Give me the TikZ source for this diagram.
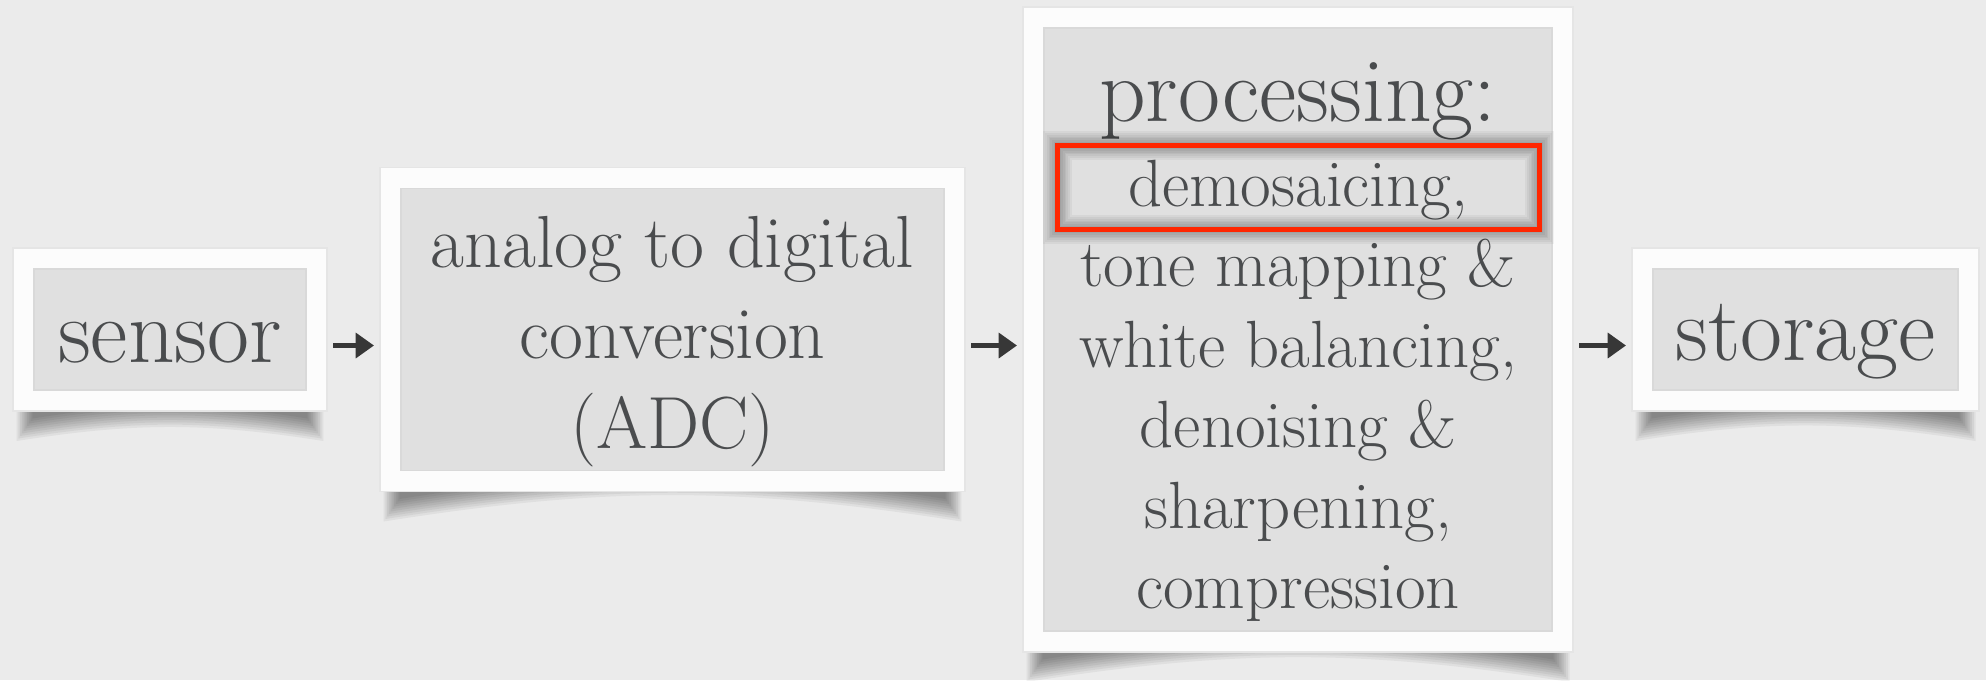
\documentclass[tikz,border=0pt]{standalone}
\usepackage{tikz}
\usetikzlibrary{positioning,arrows.meta}
\definecolor{paper}{RGB}{235,235,235}
\definecolor{framewhite}{RGB}{252,252,252}
\definecolor{boxgray}{RGB}{224,224,224}
\definecolor{ink}{RGB}{74,76,78}
\definecolor{arrowink}{RGB}{55,55,55}
\definecolor{hlred}{RGB}{255,38,0}
\pgfdeclarelayer{paperlayer}
\pgfdeclarelayer{shadelayer}
\pgfsetlayers{paperlayer,shadelayer,main}
\tikzset{
  block/.style = {rectangle, fill=framewhite, draw=black!10, line width=0.5pt,
                  inner sep=0pt, outer sep=0pt, align=center, text=ink,
                  path picture={\fill[boxgray, draw=black!15, line width=0.4pt]
                    ([shift={(0.21,0.21)}]path picture bounding box.south west) rectangle
                    ([shift={(-0.21,-0.21)}]path picture bounding box.north east);}},
  small/.style  = {block, minimum width=3.14cm, minimum height=1.63cm,
                   font=\fontsize{26pt}{30pt}\selectfont},
  arr/.style    = {-{Triangle[length=5.2pt,width=7pt]}, line width=1.5pt,
                   draw=arrowink, shorten <=0.06cm, shorten >=0.06cm},
  hilite/.style = {rectangle, inner sep=0pt, outer sep=0pt,
                   minimum width=4.82cm, minimum height=0.84cm},
  hlbox/.style  = {draw=hlred, line width=1.4pt}
}
% curved drop shadow under a frame
\newcommand\curlshadow[1]{%
  \foreach \i in {0,...,9}
    \fill[black, opacity=0.05]
      ([xshift=1pt+\i*0.5pt,yshift=4pt]#1.south west)
      -- ([xshift=1pt+\i*0.5pt,yshift=-0.30cm+\i*0.025cm]#1.south west)
      to[bend left=9] ([xshift=-1pt-\i*0.5pt,yshift=-0.30cm+\i*0.025cm]#1.south east)
      -- ([xshift=-1pt-\i*0.5pt,yshift=4pt]#1.south east) -- cycle;}

\begin{document}
\begin{tikzpicture}
  \useasboundingbox (0,0) rectangle (19.86,-6.80);
  \begin{pgfonlayer}{paperlayer}
    \fill[paper] (0,0) rectangle (19.86,-6.80);
  \end{pgfonlayer}

  \node[small, text height=20pt, text depth=1.5pt] (sensor) at (1.70,-3.295) {sensor};
  \node[block, right=0.53cm of sensor, minimum width=5.85cm, minimum height=3.24cm,
        font=\fontsize{21pt}{25.7pt}\selectfont, text height=68.7pt, text depth=1pt]
        (adc) {analog to digital\\conversion\\(ADC)};
  \node[block, right=0.58cm of adc, minimum width=5.50cm, minimum height=6.45cm,
        font=\fontsize{19pt}{22.9pt}\selectfont, text height=160pt, text depth=1pt]
        (proc) {{\fontsize{26pt}{22.9pt}\selectfont processing:}\\[1.3pt]
                demosaicing,\\tone mapping \&\\white balancing,\\denoising \&\\
                sharpening,\\compression};
  \node[small, right=0.59cm of proc, minimum width=3.47cm, text height=19.4pt,
        text depth=1.5pt] (storage) {storage};

  \begin{pgfonlayer}{shadelayer}
    \curlshadow{sensor}
    \curlshadow{adc}
    \curlshadow{proc}
    \curlshadow{storage}
  \end{pgfonlayer}

  % highlight on the first step
  \node[hilite] (hl) at (12.985,-1.875) {};
  \foreach \w in {1,...,8}
    \draw[black, opacity=0.045, line width=\w pt] (hl.south west) rectangle (hl.north east);
  \draw[hlbox] (hl.south west) rectangle (hl.north east);

  \draw[arr] ([yshift=-0.16cm]sensor.east) -- ([yshift=-0.16cm]adc.west);
  \draw[arr] ([yshift=-0.16cm]adc.east) -- ([yshift=-0.16cm]proc.west);
  \draw[arr] ([yshift=-0.16cm]proc.east) -- ([yshift=-0.16cm]storage.west);
\end{tikzpicture}
\end{document}
